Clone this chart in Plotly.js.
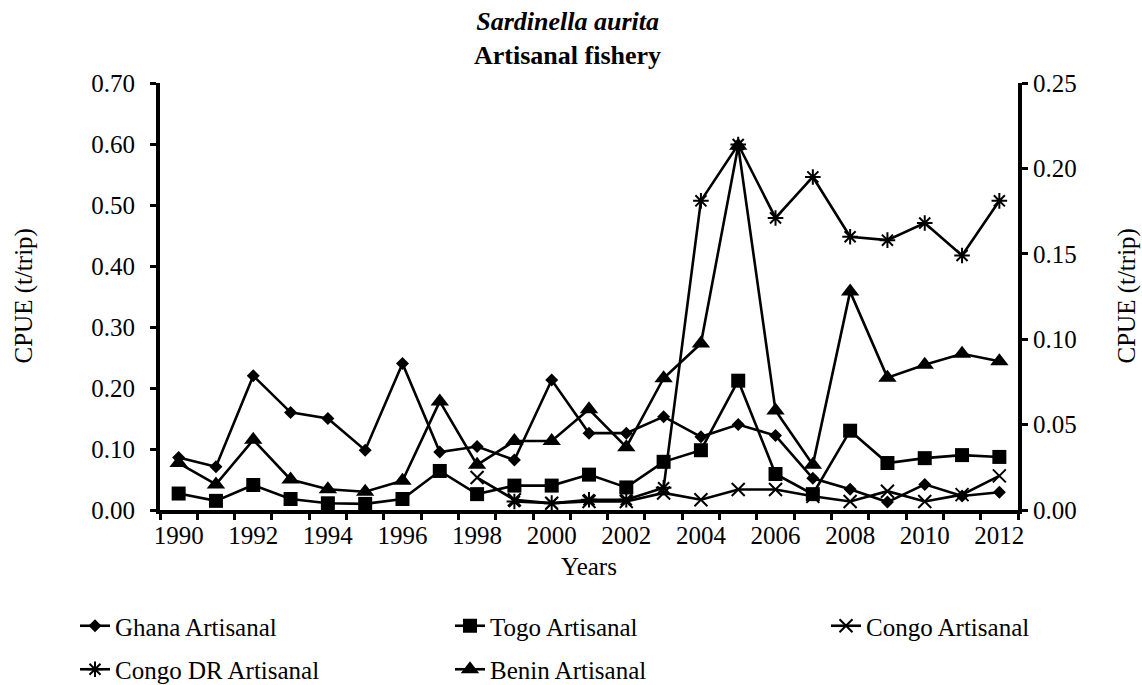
<!DOCTYPE html>
<html>
<head>
<meta charset="utf-8">
<script src="https://cdn.plot.ly/plotly-3.0.1.min.js"></script>
<style>html,body{margin:0;padding:0;background:#fff;}#chart{width:1142px;height:685px;}</style>
</head>
<body>
<div id="chart"></div>
<script>
const years = [1990,1991,1992,1993,1994,1995,1996,1997,1998,1999,2000,2001,2002,2003,2004,2005,2006,2007,2008,2009,2010,2011,2012];
const xTickVals = [1990,1992,1994,1996,1998,2000,2002,2004,2006,2008,2010,2012];
// left axis series
const ghana = [0.086,0.071,0.220,0.160,0.150,0.098,0.240,0.095,0.104,0.082,0.213,0.126,0.126,0.153,0.120,0.140,0.122,0.052,0.034,0.013,0.042,0.023,0.029];
const togo  = [0.027,0.015,0.041,0.018,0.011,0.010,0.018,0.064,0.026,0.040,0.040,0.058,0.037,0.079,0.098,0.212,0.059,0.026,0.130,0.077,0.085,0.090,0.087];
const benin = [0.077,0.042,0.115,0.050,0.034,0.030,0.048,0.178,0.074,0.113,0.113,0.165,0.103,0.216,0.273,0.597,0.163,0.074,0.358,0.217,0.238,0.256,0.244];
// right axis series
const congo   = [null,null,null,null,null,null,null,null,0.019,0.006,0.004,0.005,0.005,0.010,0.006,0.012,0.012,0.008,0.005,0.011,0.005,0.009,0.020];
const congoDR = [null,null,null,null,null,null,null,null,null,0.005,0.004,0.006,0.006,0.013,0.181,0.214,0.171,0.195,0.160,0.158,0.168,0.149,0.181];
const yTitle = 'CPUE (t/trip)';

const font = 'Liberation Serif';
const FS = 25;
const line = {color:'#000', width:2.6};
function tr(name, y, axis, sym, size, mline, leg, grp){
  return {x: years, y: y, name: name, type:'scatter', mode:'lines+markers', yaxis: axis,
    connectgaps:false, line: line, legend: leg, legendgroup: grp,
    marker:{symbol: sym, size: size, color:'#000', line:{color:'#000', width: mline}}};
}
const data = [
  tr('Ghana Artisanal', ghana, 'y', 'diamond', 10, 0, 'legend', 'g1'),
  tr('Togo Artisanal', togo, 'y', 'square', 14, 0, 'legend2', 'g2'),
  tr('Congo Artisanal', congo, 'y2', 'x-thin-open', 13, 2, 'legend3', 'g3'),
  tr('Congo DR Artisanal', congoDR, 'y2', 'asterisk-open', 13, 2, 'legend', 'g4'),
  tr('Benin Artisanal', benin, 'y', 'triangle-up', 16, 0, 'legend2', 'g5')
];
function leg(xpx){
  return {orientation:'v', xref:'container', yref:'container', x: xpx/1142, y: 1 - 603/685, xanchor:'left', yanchor:'top',
    font:{family:font, size:FS, color:'#000'}, tracegroupgap:8, bgcolor:'rgba(0,0,0,0)', borderwidth:0};
}
const layout = {
  width:1142, height:685,
  margin:{l:160, r:124, t:83, b:175, autoexpand:false},
  paper_bgcolor:'#fff', plot_bgcolor:'#fff',
  font:{family:font, size:FS, color:'#000'},
  title:{text:'<b><i>Sardinella aurita</i></b><br><b>Artisanal fishery</b>', xref:'container', x:0.497, xanchor:'center', yref:'container', y:0.956, yanchor:'top', font:{family:font, size:26, color:'#000'}},
  showlegend:true,
  legend: leg(75),
  legend2: leg(450),
  legend3: leg(826),
  annotations:[
    {text:yTitle, xref:'paper', yref:'paper', x:(23-160)/858, y:0.5, xanchor:'center', yanchor:'middle', textangle:-90, showarrow:false, font:{family:font, size:FS, color:'#000'}},
    {text:yTitle, xref:'paper', yref:'paper', x:(1126-160)/858, y:0.5, xanchor:'center', yanchor:'middle', textangle:-90, showarrow:false, font:{family:font, size:FS, color:'#000'}}
  ],
  xaxis:{range:[1989.5,2012.5], tickmode:'array', tickvals:xTickVals, ticktext:xTickVals.map(String), tickangle:0, automargin:false,
    ticks:'', showgrid:false, zeroline:false, showline:true, linecolor:'#000', linewidth:4,
    tickfont:{family:font, size:FS},
    minor:{tick0:1989.5, dtick:1, ticks:'outside', ticklen:6, tickwidth:3, tickcolor:'#000', showgrid:false},
    title:{text:'Years', font:{family:font, size:FS}, standoff:10}},
  yaxis:{range:[0,0.7], dtick:0.1, tick0:0, tickformat:'.2f', ticksuffix:'\u2009\u2009', ticks:'outside', ticklen:6, tickwidth:3, tickcolor:'#000', automargin:false,
    showgrid:false, zeroline:false, showline:true, linecolor:'#000', linewidth:4, tickfont:{family:font, size:FS}},
  yaxis2:{range:[0,0.25], dtick:0.05, tick0:0, tickformat:'.2f', overlaying:'y', side:'right', ticks:'outside', ticklen:6, tickwidth:3, tickcolor:'#000', automargin:false,
    showgrid:false, zeroline:false, showline:true, linecolor:'#000', linewidth:4, tickfont:{family:font, size:FS}}
};
Plotly.newPlot('chart', data, layout, {displayModeBar:false, staticPlot:true});
</script>
</body>
</html>
